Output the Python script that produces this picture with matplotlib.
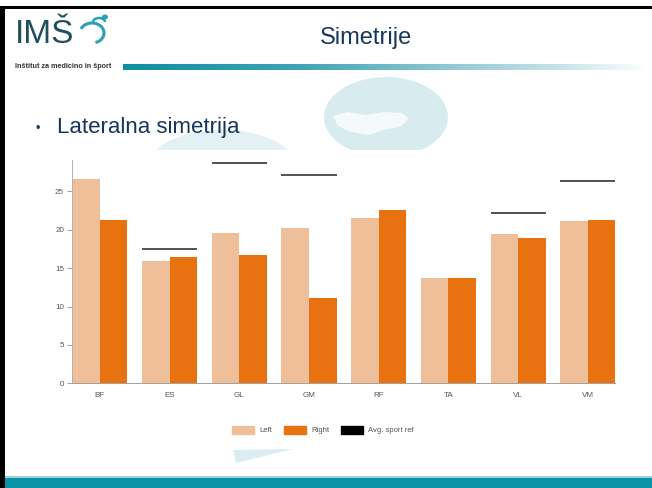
import numpy as np
import matplotlib
matplotlib.use("Agg")
import matplotlib.pyplot as plt
from matplotlib.patches import Rectangle, Ellipse, Polygon, Patch, Arc
from matplotlib.colors import LinearSegmentedColormap

# --- data ---
muscles = ["BF", "ES", "GL", "GM", "RF", "TA", "VL", "VM"]
left_vals = [26.6, 16.0, 19.6, 20.3, 21.6, 13.7, 19.4, 21.1]
right_vals = [21.3, 16.4, 16.7, 11.1, 22.6, 13.7, 18.9, 21.3]
avg_ref = [np.nan, 17.5, 28.7, 27.1, np.nan, np.nan, 22.2, 26.4]
y_ticks = [0, 5, 10, 15, 20, 25]

C_LEFT = "#efbf99"
C_RIGHT = "#e97210"
C_NAVY = "#17365d"
C_TEAL = "#0a93a6"
C_WASH = "#d8ecf0"

plt.rcParams["font.family"] = ["Liberation Sans", "DejaVu Sans"]

W, H = 652, 488
fig = plt.figure(figsize=(W / 100, H / 100), dpi=100)
fig.patch.set_facecolor("white")

# --- slide background (pixel coords) ---
bg = fig.add_axes([0, 0, 1, 1])
bg.set_xlim(0, W)
bg.set_ylim(H, 0)
bg.axis("off")

# faint watermark shapes, mostly hidden under the chart
bg.add_patch(Ellipse((386, 117), 124, 80, color=C_WASH, lw=0))
bg.add_patch(Polygon([(333, 116), (348, 112), (366, 115), (384, 112), (402, 113),
                      (409, 119), (400, 127), (384, 130), (368, 135), (350, 132),
                      (338, 126)], closed=True, color="#f4fafb", lw=0))
bg.add_patch(Ellipse((222, 168), 150, 76, color="#e4f1f4", lw=0))
bg.add_patch(Polygon([(233, 450), (293, 449), (236, 463)], closed=True, color="#dcedf1", lw=0))
# white chart backdrop
bg.add_patch(Rectangle((5, 150), W - 5, 297, color="white", lw=0))

# gradient header bar
grad = LinearSegmentedColormap.from_list(
    "hdr", [(0, "#0f8ea3"), (0.33, "#3ea3b5"), (0.71, "#a9d4dd"), (0.83, "#c5e3e9"), (1, "#ffffff")])
bg.imshow(np.linspace(0, 1, 256)[None, :], cmap=grad, aspect="auto",
          extent=(123, 648, 70, 64), zorder=1)
bg.set_xlim(0, W)
bg.set_ylim(H, 0)

# footer bar
bg.add_patch(Rectangle((0, 476), W, 1.5, color="#9fd3dc", lw=0))
bg.add_patch(Rectangle((0, 477.5), W, 11, color=C_TEAL, lw=0))

# black frame
bg.add_patch(Rectangle((0, 6), W, 3, color="black", lw=0))
bg.add_patch(Rectangle((0, 6), 4.5, H, color="black", lw=0))

# logo
bg.text(15, 43, "IMŠ", fontsize=24, color="#1f4f5c", va="baseline", ha="left")
bg.add_patch(Arc((92, 33), 24, 20, theta1=200, theta2=70, color="#2aa0b5", lw=2.2))
bg.add_patch(Arc((99, 22), 12, 8, theta1=180, theta2=360, color="#2aa0b5", lw=1.8))
bg.add_patch(Ellipse((105, 17), 6, 5, color="#2aa0b5", lw=0))
bg.text(15, 66, "Inštitut za medicino in šport", fontsize=5.2, color="#333333",
        fontweight="bold", va="center", ha="left")

# title and bullet
bg.text(366, 44, "Simetrije", fontsize=17, color=C_NAVY, ha="center", va="baseline")
bg.text(38, 129, "•", fontsize=9, color=C_NAVY, ha="center", va="center")
bg.text(57, 133, "Lateralna simetrija", fontsize=16, color=C_NAVY, ha="left", va="baseline")

# --- chart ---
w = 0.395
x = np.arange(len(muscles))
ax = fig.add_axes([72.4 / W, 1 - 383.3 / H, (615.3 - 72.4) / W, (383.3 - 160) / H])
ax.patch.set_alpha(0)
ax.bar(x - w / 2, left_vals, width=w, color=C_LEFT, lw=0, zorder=2)
ax.bar(x + w / 2, right_vals, width=w, color=C_RIGHT, lw=0, zorder=2)
ax.hlines(avg_ref, x - w, x + w, colors="#444444", lw=1.3, zorder=3)

ax.set_xlim(-w, len(muscles) - 1 + w)
ax.set_ylim(0, 29.1)
ax.set_yticks(y_ticks)
ax.set_xticks(x)
ax.set_xticklabels(muscles)
for s in ["top", "right"]:
    ax.spines[s].set_visible(False)
ax.spines["left"].set_color("#b0b0b0")
ax.spines["left"].set_linewidth(0.7)
ax.spines["bottom"].set_color("#a0a0a0")
ax.spines["bottom"].set_linewidth(0.7)
ax.tick_params(axis="y", length=3.5, width=0.6, color="#909090", labelcolor="#555555",
               labelsize=5.8, pad=2.5)
ax.tick_params(axis="x", length=0, labelcolor="#555555", labelsize=5.8, pad=6)

handles = [Patch(color=C_LEFT), Patch(color=C_RIGHT), Patch(color="black")]
fig.legend(handles, ["Left", "Right", "Avg. sport ref"], loc="center",
           bbox_to_anchor=(323 / W, 1 - 430 / H), ncol=3, frameon=False,
           fontsize=5.5, handlelength=2.8, handleheight=1.4, handletextpad=0.7,
           columnspacing=1.6, labelcolor="#555555")

fig.savefig("out.png", dpi=100)
